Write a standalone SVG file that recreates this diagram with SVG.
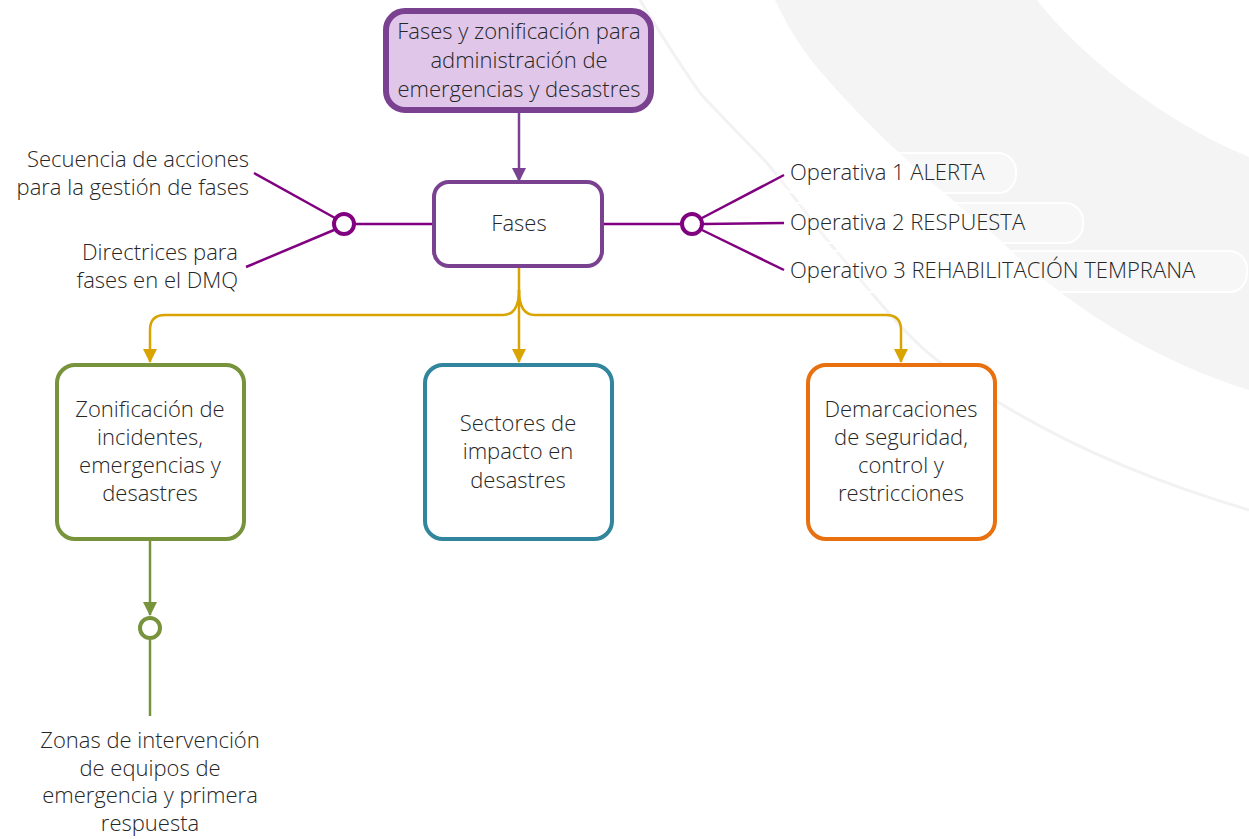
<svg xmlns="http://www.w3.org/2000/svg" width="1249" height="839" viewBox="0 0 1249 839">
<defs>
<style>
text{font-family:"Open Sans","Noto Sans","Liberation Sans",sans-serif;font-size:22px;font-weight:300;fill:#262626}
.c{text-anchor:middle}
.e{text-anchor:end}
.node{stroke-width:4;fill:#ffffff}
.pl{stroke:#800080;stroke-width:2.5;fill:none}
.gl{stroke:#d9a300;stroke-width:2.5;fill:none}
.lbox{fill:#ffffff;fill-opacity:0.25;stroke:#ffffff;stroke-width:2}
</style>
<marker id="ag" viewBox="0 0 14 14" refX="13" refY="7" markerWidth="14" markerHeight="14" markerUnits="userSpaceOnUse" orient="auto"><path d="M0,0 L14,7 L0,14 Z" fill="#d9a300"/></marker>
<marker id="ap" viewBox="0 0 14 14" refX="13" refY="7" markerWidth="14" markerHeight="14" markerUnits="userSpaceOnUse" orient="auto"><path d="M0,0 L14,7 L0,14 Z" fill="#7a4190"/></marker>
<marker id="av" viewBox="0 0 14 14" refX="13" refY="7" markerWidth="14" markerHeight="14" markerUnits="userSpaceOnUse" orient="auto"><path d="M0,0 L14,7 L0,14 Z" fill="#77933c"/></marker>
</defs>
<rect width="1249" height="839" fill="#ffffff"/>
<g id="background">
<path d="M775,0 L1037,0 C1080,55 1160,120 1249,157 L1249,390 C1150,360 1060,300 1000,240 C940,190 880,140 828,80 C805,55 788,28 775,0 Z" fill="#f4f4f4"/>
<path d="M640,0 C670,50 700,93 700,93 C720,115 745,140 767,163 C790,190 810,220 833,247 C870,290 900,330 933,357 C1020,425 1130,475 1249,510" fill="none" stroke="#f2f2f2" stroke-width="3"/>
<rect class="lbox" x="778" y="153" width="238" height="40" rx="18"/>
<rect class="lbox" x="778" y="203" width="305" height="40" rx="18"/>
<rect class="lbox" x="778" y="251" width="469" height="41" rx="18"/>
</g>
<g id="connectors">
<line x1="519" y1="113" x2="519" y2="181" stroke="#7a4190" stroke-width="2.5" marker-end="url(#ap)"/>
<line class="pl" x1="432" y1="224" x2="355" y2="224"/>
<line class="pl" x1="254" y1="173" x2="335" y2="218"/>
<line class="pl" x1="246" y1="267" x2="334" y2="230"/>
<line class="pl" x1="603" y1="224" x2="681" y2="224"/>
<line class="pl" x1="702" y1="218" x2="784" y2="175"/>
<line class="pl" x1="703" y1="224" x2="784" y2="223"/>
<line class="pl" x1="702" y1="230" x2="784" y2="270"/>
<path class="gl" d="M519,267 V362" marker-end="url(#ag)"/>
<path class="gl" d="M519,290 Q519,315 503,315 H165 Q150,315 150,330 V362" marker-end="url(#ag)"/>
<path class="gl" d="M519,290 Q519,315 535,315 H886 Q901,315 901,330 V362" marker-end="url(#ag)"/>
<path d="M150,541 V615" stroke="#77933c" stroke-width="2.5" fill="none" marker-end="url(#av)"/>
<path d="M150,640 V716" stroke="#77933c" stroke-width="2.5" fill="none"/>
<circle cx="344" cy="224" r="10" fill="#ffffff" stroke="#800080" stroke-width="4"/>
<circle cx="692" cy="224" r="10" fill="#ffffff" stroke="#800080" stroke-width="4"/>
<circle cx="150" cy="628" r="10" fill="#ffffff" stroke="#77933c" stroke-width="4"/>
</g>
<g id="node-root">
<rect x="386" y="11" width="265" height="99" rx="19" fill="#e0c6e9" stroke="#7a4190" stroke-width="6"/>
<text class="c" x="519" y="39">Fases y zonificación para</text>
<text class="c" x="519" y="68">administración de</text>
<text class="c" x="519" y="97">emergencias y desastres</text>
</g>
<g id="node-fases">
<rect class="node" x="434" y="182" width="168" height="84" rx="15" stroke="#7a4190"/>
<text class="c" x="519" y="231">Fases</text>
</g>
<g id="label-secuencia">
<text class="e" x="249" y="167">Secuencia de acciones</text>
<text class="e" x="249" y="195">para la gestión de fases</text>
</g>
<g id="label-directrices">
<text class="e" x="238" y="260">Directrices para</text>
<text class="e" x="238" y="288">fases en el DMQ</text>
</g>
<g id="label-op1"><text x="790" y="180">Operativa 1 ALERTA</text></g>
<g id="label-op2"><text x="790" y="230">Operativa 2 RESPUESTA</text></g>
<g id="label-op3"><text x="790" y="278">Operativo 3 REHABILITACIÓN TEMPRANA</text></g>
<g id="node-zonificacion">
<rect class="node" x="57" y="365" width="187" height="174" rx="18" stroke="#77933c"/>
<text class="c" x="150" y="417">Zonificación de</text>
<text class="c" x="150" y="445">incidentes,</text>
<text class="c" x="150" y="473">emergencias y</text>
<text class="c" x="150" y="501">desastres</text>
</g>
<g id="node-sectores">
<rect class="node" x="425" y="365" width="187" height="174" rx="18" stroke="#31859c"/>
<text class="c" x="518" y="431">Sectores de</text>
<text class="c" x="518" y="459">impacto en</text>
<text class="c" x="518" y="488">desastres</text>
</g>
<g id="node-demarcaciones">
<rect class="node" x="808" y="365" width="187" height="174" rx="18" stroke="#e8700e"/>
<text class="c" x="901" y="417">Demarcaciones</text>
<text class="c" x="901" y="445">de seguridad,</text>
<text class="c" x="901" y="473">control y</text>
<text class="c" x="901" y="501">restricciones</text>
</g>
<g id="label-zonas">
<text class="c" x="150" y="748">Zonas de intervención</text>
<text class="c" x="150" y="776">de equipos de</text>
<text class="c" x="150" y="803">emergencia y primera</text>
<text class="c" x="150" y="831">respuesta</text>
</g>
</svg>
